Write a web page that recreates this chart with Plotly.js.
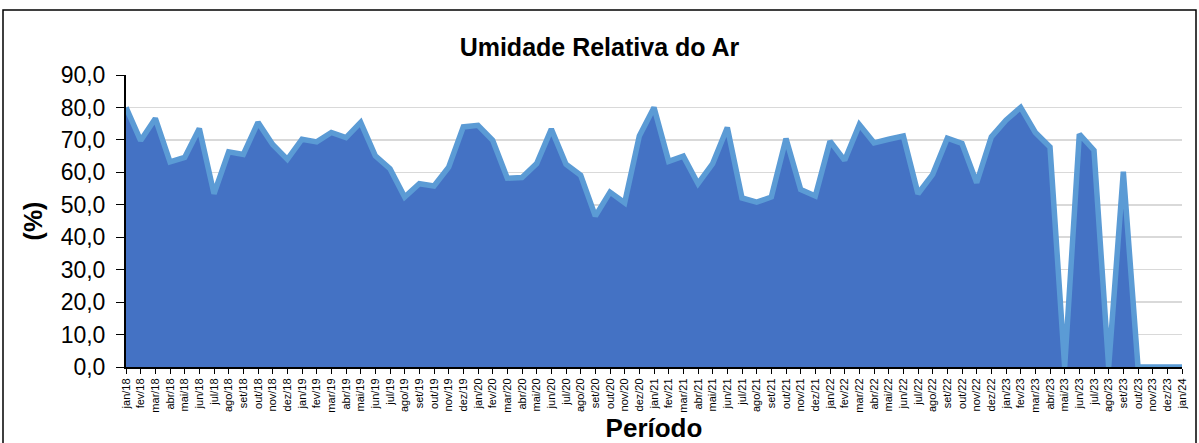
<!DOCTYPE html>
<html>
<head>
<meta charset="utf-8">
<script src="https://cdn.plot.ly/plotly-3.0.1.min.js"></script>
<style>
  html, body { margin: 0; padding: 0; background: #fff; }
  #chart { width: 1199px; height: 443px; }
</style>
</head>
<body>
<div id="chart"></div>
<script>
const months = ["jan","fev","mar","abr","mai","jun","jul","ago","set","out","nov","dez"];
const periods = [];
for (let y = 18; y <= 23; y++) for (const m of months) periods.push(m + "/" + y);
periods.push("jan/24");

const umidade = [
  80.0, 69.8, 76.6, 63.2, 64.6, 73.5, 53.4, 66.3, 65.5, 75.4, 68.6, 64.0,
  70.2, 69.4, 72.3, 70.7, 75.4, 65.1, 61.1, 52.4, 56.5, 55.8, 61.6, 74.0,
  74.5, 69.9, 58.2, 58.4, 62.7, 73.3, 62.5, 59.1, 46.5, 53.9, 50.6, 71.2,
  80.0, 63.4, 65.0, 56.5, 62.7, 73.8, 52.1, 50.8, 52.4, 70.4, 54.7, 52.7,
  69.6, 63.7, 74.7, 69.1, 70.2, 71.2, 53.4, 59.4, 70.5, 68.9, 56.8, 70.9,
  76.1, 80.0, 72.3, 67.8, 0.0, 71.8, 66.8, 0.0, 60.2, 0.0, 0.0, 0.0,
  0.0
];

const yTicks = [0, 10, 20, 30, 40, 50, 60, 70, 80, 90];

const font = "'Liberation Sans', Arial, sans-serif";
const L = 126, R = 17, T = 75, B = 76, W = 1199, H = 443;
const pw = W - L - R, ph = H - T - B;

const trace = {
  x: periods,
  y: umidade,
  type: "scatter",
  mode: "lines",
  fill: "tozeroy",
  fillcolor: "#4472C4",
  line: { color: "#5B9BD5", width: 5.5, shape: "linear" },
  hoverinfo: "x+y"
};

const layout = {
  width: W, height: H,
  margin: { l: L, r: R, t: T, b: B, pad: 0 },
  paper_bgcolor: "#ffffff",
  plot_bgcolor: "#ffffff",
  separators: ",.",
  showlegend: false,
  font: { family: font, color: "#000" },
  title: {
    text: "<b>Umidade Relativa do Ar</b>",
    font: { family: font, size: 25, color: "#000" },
    x: 0.5, xanchor: "center",
    y: 1 - 47 / H, yanchor: "middle", yref: "container"
  },
  xaxis: {
    type: "category",
    range: [0, periods.length - 1],
    tickangle: -90,
    tickfont: { family: font, size: 11, color: "#000" },
    ticks: "outside", ticklen: 5, tickcolor: "#000", tickwidth: 1,
    showline: true, linecolor: "#000", linewidth: 2,
    showgrid: false, zeroline: false,
    automargin: false,
    title: { text: "<b>Período</b>", font: { family: font, size: 26, color: "#000" }, standoff: 1 }
  },
  yaxis: {
    range: [0, 90],
    tickvals: yTicks,
    tickformat: ".1f",
    tickfont: { family: font, size: 23, color: "#000" },
    ticks: "outside", ticklen: 8, tickcolor: "#000", tickwidth: 1,
    ticklabelstandoff: 6,
    showline: true, linecolor: "#000", linewidth: 2,
    showgrid: true, gridcolor: "#d9d9d9", gridwidth: 1.5,
    zeroline: false,
    automargin: false,
    title: { text: "<b>(%)</b>", font: { family: font, size: 25, color: "#000" }, standoff: 11 }
  },
  shapes: [{
    type: "rect", xref: "paper", yref: "paper",
    x0: (3 - L) / pw, x1: (1196 - L) / pw,
    y0: (H - T - 446) / ph, y1: (H - T - 11) / ph,
    line: { color: "#000", width: 1.5 }, fillcolor: "rgba(0,0,0,0)", layer: "above"
  }]
};

Plotly.newPlot("chart", [trace], layout, { displayModeBar: false, staticPlot: true });
</script>
</body>
</html>
